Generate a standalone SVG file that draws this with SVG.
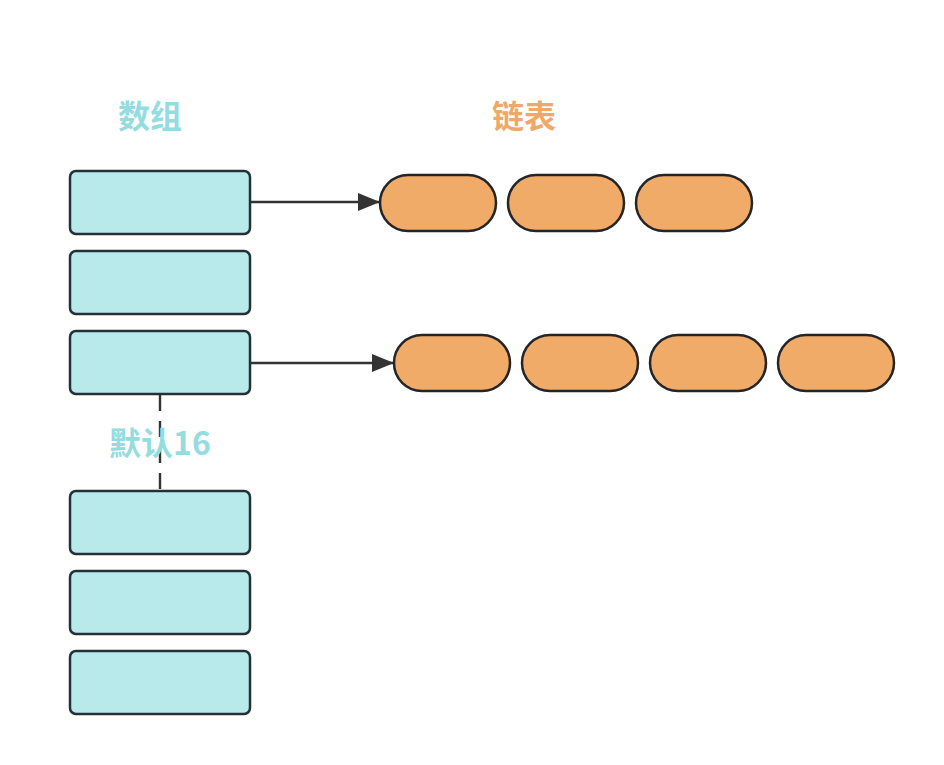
<svg xmlns="http://www.w3.org/2000/svg" width="944" height="765" viewBox="0 0 944 765">
<style>
.arr{fill:#b8eaeb;stroke:#252f36;stroke-width:2.5}
.lnk{fill:#f0ab69;stroke:#252525;stroke-width:2.5}
.conn{stroke:#333;stroke-width:2.4;fill:none}
.t{font-family:"Noto Sans CJK SC","Noto Sans",sans-serif;font-weight:bold;font-size:32px;text-anchor:middle;dominant-baseline:central}
</style>
<defs>
<marker id="ah" viewBox="0 0 22 18" refX="22" refY="9" markerWidth="22" markerHeight="18" markerUnits="userSpaceOnUse" orient="auto">
<path d="M0,0 L22,9 L0,18 z" fill="#333"/>
</marker>
</defs>
<rect width="944" height="765" fill="#fff"/>
<g id="connectors">
<line class="conn" x1="250" y1="202" x2="380" y2="202" marker-end="url(#ah)"/>
<line class="conn" x1="250" y1="363" x2="394" y2="363" marker-end="url(#ah)"/>
<line class="conn" x1="160" y1="395" x2="160" y2="491" stroke-dasharray="16 10"/>
</g>
<g id="label-array"><text class="t" x="150" y="114" fill="#93dde0">数组</text></g>
<g id="label-list"><text class="t" x="524" y="114" fill="#f0a868">链表</text></g>
<g id="a1"><rect class="arr" x="70" y="171" width="180" height="63" rx="6"/></g>
<g id="a2"><rect class="arr" x="70" y="251" width="180" height="63" rx="6"/></g>
<g id="a3"><rect class="arr" x="70" y="331" width="180" height="63" rx="6"/></g>
<g id="a4"><rect class="arr" x="70" y="491" width="180" height="63" rx="6"/></g>
<g id="a5"><rect class="arr" x="70" y="571" width="180" height="63" rx="6"/></g>
<g id="a6"><rect class="arr" x="70" y="651" width="180" height="63" rx="6"/></g>
<g id="label-default"><text class="t" x="160" y="441" fill="#93dde0">默认16</text></g>
<g id="l1"><rect class="lnk" x="380" y="175" width="116" height="56" rx="28"/></g>
<g id="l2"><rect class="lnk" x="508" y="175" width="116" height="56" rx="28"/></g>
<g id="l3"><rect class="lnk" x="636" y="175" width="116" height="56" rx="28"/></g>
<g id="l4"><rect class="lnk" x="394" y="335" width="116" height="56" rx="28"/></g>
<g id="l5"><rect class="lnk" x="522" y="335" width="116" height="56" rx="28"/></g>
<g id="l6"><rect class="lnk" x="650" y="335" width="116" height="56" rx="28"/></g>
<g id="l7"><rect class="lnk" x="778" y="335" width="116" height="56" rx="28"/></g>
</svg>
